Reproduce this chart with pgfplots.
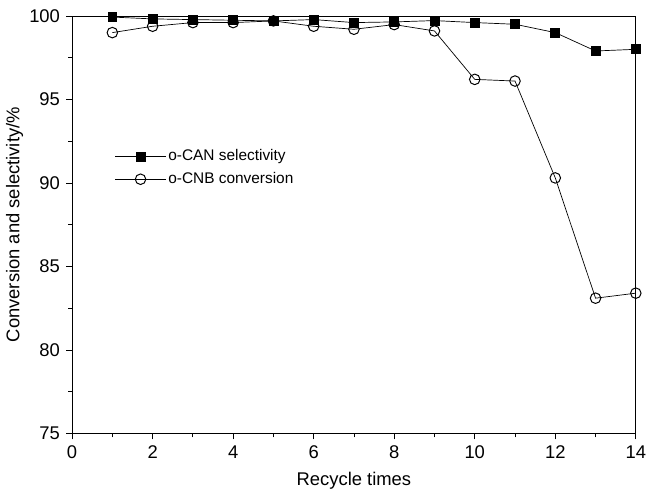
\documentclass[border=0pt]{standalone}
\usepackage{pgfplots}
\pgfplotsset{compat=1.18}
\usepackage{fontspec}
\setmainfont{Liberation Sans}
\begin{document}
\fontsize{18}{21}\selectfont
\begin{tikzpicture}
\begin{axis}[
  scale only axis,
  width=567pt, height=420pt,
  xmin=0, xmax=14, ymin=75, ymax=100,
  xtick={0,2,...,14}, minor xtick={1,3,...,13},
  ytick={75,80,...,100}, minor ytick={77.5,82.5,...,97.5},
  tick align=outside, tick pos=left,
  major tick length=6pt, minor tick length=4pt,
  axis line style={line width=0.8pt},
  every tick/.style={black, line width=0.8pt},
  /pgf/number format/assume math mode=true,
  tick label style={font=\fontsize{18.5}{21}\selectfont},
  label style={font=\fontsize{18.5}{21}\selectfont},
  xlabel={Recycle times},
  ylabel={Conversion and selectivity/\%},
  xlabel style={yshift=-1pt},
  ylabel style={yshift=-6pt},
  clip=false,
  legend style={draw=none, fill=none, at={(0.07,0.69)}, anchor=north west,
    font=\fontsize{15.5}{18}\selectfont, row sep=5pt},
  legend image code/.code={
    \draw[mark repeat=2,mark phase=2,#1] plot coordinates {(0cm,0cm) (0.9cm,0cm) (1.8cm,0cm)};},
  legend cell align=left,
  after end axis/.code={\path (rel axis cs:0,1) ++(0,16pt);},
]
\addplot[black, line width=0.7pt, mark=square*, mark size=4.5pt, mark options={solid, fill=black}]
 coordinates {(1,99.93) (2,99.82) (3,99.78) (4,99.74) (5,99.7) (6,99.78) (7,99.6) (8,99.64) (9,99.72) (10,99.6) (11,99.5) (12,99.0) (13,97.9) (14,98.0)};
\addlegendentry{o-CAN selectivity}
\addplot[black, line width=0.7pt, mark=o, mark size=5.3pt, mark options={solid, fill=white, line width=1pt}]
 coordinates {(1,99.0) (2,99.38) (3,99.6) (4,99.6) (5,99.7) (6,99.38) (7,99.2) (8,99.48) (9,99.1) (10,96.2) (11,96.1) (12,90.3) (13,83.1) (14,83.4)};
\addlegendentry{o-CNB conversion}
\end{axis}
\end{tikzpicture}
\end{document}
